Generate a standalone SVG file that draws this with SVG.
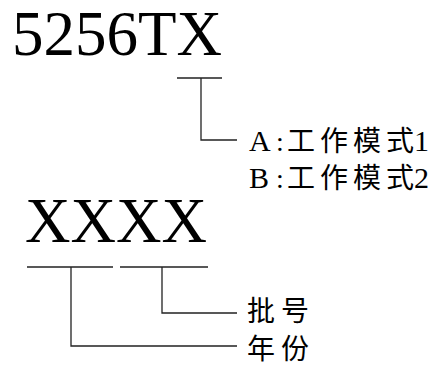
<svg xmlns="http://www.w3.org/2000/svg" width="429" height="367" viewBox="0 0 429 367">
<style>
.big{font-family:"Liberation Serif","Noto Sans CJK SC",serif;font-size:63px;fill:#000}
.lbl{font-family:"Liberation Serif","Noto Sans CJK SC",serif;font-size:28px;fill:#000}
.lat{font-size:30px}
.ln{fill:none;stroke:#222;stroke-width:1.3}
</style>
<rect width="429" height="367" fill="#fff"/>
<g id="model"><text class="big" x="12" y="55">5256TX</text></g>
<g id="code"><text class="big" x="25" y="242">XXXX</text></g>
<g id="mode"><text class="lbl" y="151"><tspan class="lat" x="249">A</tspan><tspan x="276">:</tspan><tspan x="287 320 353 386">工作模式</tspan><tspan class="lat" x="414">1</tspan></text><text class="lbl" y="188"><tspan class="lat" x="249">B</tspan><tspan x="276">:</tspan><tspan x="287 320 353 386">工作模式</tspan><tspan class="lat" x="414">2</tspan></text></g>
<g id="batch"><text class="lbl" x="247 281" y="321">批号</text></g>
<g id="year"><text class="lbl" x="247 281" y="359">年份</text></g>
<g id="connectors">
<path class="ln" d="M177 78H222M201 78V140H237"/>
<path class="ln" d="M27 267H113M120 267H208"/>
<path class="ln" d="M162 267V313H237"/>
<path class="ln" d="M71 267V346H237"/>
</g>
</svg>
